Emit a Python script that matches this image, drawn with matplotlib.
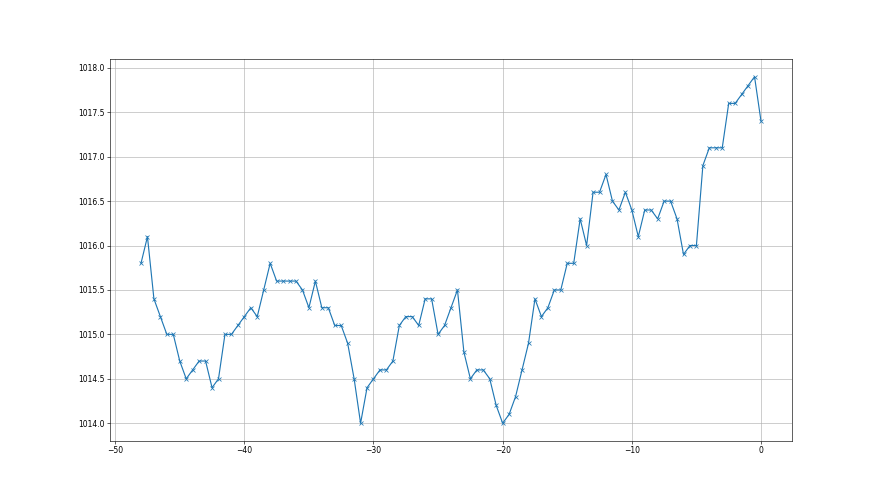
import matplotlib
matplotlib.use('Agg')
import matplotlib.pyplot as plt
import numpy as np

# half-hour steps before now
hours = np.arange(-48, 0.5, 0.5)

pressure = [
    1015.8, 1016.1, 1015.4, 1015.2, 1015.0, 1015.0, 1014.7, 1014.5, 1014.6, 1014.7,
    1014.7, 1014.4, 1014.5, 1015.0, 1015.0, 1015.1, 1015.2, 1015.3, 1015.2, 1015.5,
    1015.8, 1015.6, 1015.6, 1015.6, 1015.6, 1015.5, 1015.3, 1015.6, 1015.3, 1015.3,
    1015.1, 1015.1, 1014.9, 1014.5, 1014.0, 1014.4, 1014.5, 1014.6, 1014.6, 1014.7,
    1015.1, 1015.2, 1015.2, 1015.1, 1015.4, 1015.4, 1015.0, 1015.1, 1015.3, 1015.5,
    1014.8, 1014.5, 1014.6, 1014.6, 1014.5, 1014.2, 1014.0, 1014.1, 1014.3, 1014.6,
    1014.9, 1015.4, 1015.2, 1015.3, 1015.5, 1015.5, 1015.8, 1015.8, 1016.3, 1016.0,
    1016.6, 1016.6, 1016.8, 1016.5, 1016.4, 1016.6, 1016.4, 1016.1, 1016.4, 1016.4,
    1016.3, 1016.5, 1016.5, 1016.3, 1015.9, 1016.0, 1016.0, 1016.9, 1017.1, 1017.1,
    1017.1, 1017.6, 1017.6, 1017.7, 1017.8, 1017.9, 1017.4,
]


def render_pressure():
    fig, ax = plt.subplots(figsize=(16, 9), dpi=55)
    ax.plot(hours, pressure, marker='x', color='#1f77b4')
    ax.grid(True)
    fig.savefig('out.png', dpi=55)


if __name__ == "__main__":
    render_pressure()
